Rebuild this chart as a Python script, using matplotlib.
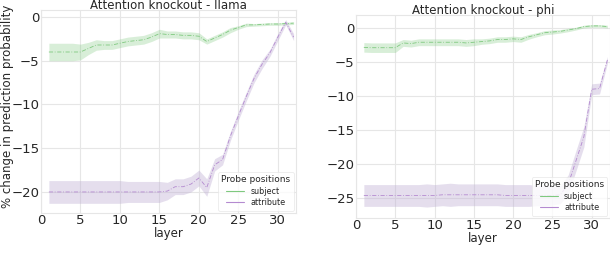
import numpy as np
import matplotlib
matplotlib.use("Agg")
import matplotlib.pyplot as plt
import seaborn as sns
from matplotlib.lines import Line2D

sns.set_style("whitegrid")
plt.rcParams['font.family'] = ['DejaVu Sans']

layers = np.arange(1, 33)

# llama
llama_subj = [-4.0, -4.0, -4.0, -4.0, -4.0, -3.6, -3.2, -3.2, -3.2, -3.0,
              -2.8, -2.7, -2.6, -2.3, -1.9, -2.0, -2.0, -2.1, -2.1, -2.2,
              -2.8, -2.4, -2.0, -1.5, -1.2, -0.9, -0.9, -0.85, -0.8, -0.8,
              -0.75, -0.7]
llama_subj_err = [1.0, 1.0, 1.0, 1.0, 0.9, 0.7, 0.6, 0.5, 0.5, 0.5,
                  0.5, 0.5, 0.5, 0.5, 0.5, 0.4, 0.4, 0.4, 0.4, 0.4,
                  0.3, 0.3, 0.3, 0.3, 0.2, 0.2, 0.15, 0.15, 0.15, 0.15,
                  0.15, 0.15]
llama_attr = [-20.0, -20.0, -20.0, -20.0, -20.0, -20.0, -20.0, -20.0, -20.0, -20.0,
              -20.0, -20.0, -20.0, -20.0, -20.0, -19.9, -19.4, -19.4, -19.1, -18.4,
              -19.5, -16.9, -16.3, -13.6, -11.3, -9.1, -7.0, -5.4, -4.1, -2.3,
              -0.6, -2.3]
llama_attr_err = [1.3, 1.3, 1.3, 1.3, 1.3, 1.3, 1.3, 1.3, 1.3, 1.3,
                  1.2, 1.2, 1.2, 1.2, 1.2, 1.0, 0.9, 0.9, 0.9, 0.9,
                  1.0, 0.7, 0.6, 0.5, 0.5, 0.5, 0.5, 0.5, 0.4, 0.4,
                  0.3, 0.4]

# phi
phi_subj = [-2.85, -2.9, -2.9, -2.9, -2.9, -2.2, -2.3, -2.1, -2.1, -2.1,
            -2.1, -2.1, -2.1, -2.2, -2.1, -2.0, -1.9, -1.7, -1.7, -1.6,
            -1.7, -1.3, -1.0, -0.7, -0.6, -0.5, -0.3, -0.1, 0.2, 0.3,
            0.3, 0.2]
phi_subj_err = [0.7, 0.7, 0.7, 0.7, 0.7, 0.5, 0.5, 0.5, 0.5, 0.5,
                0.5, 0.5, 0.5, 0.5, 0.5, 0.4, 0.4, 0.4, 0.4, 0.4,
                0.4, 0.35, 0.3, 0.3, 0.3, 0.25, 0.25, 0.2, 0.2, 0.2,
                0.2, 0.2]
phi_attr = [-24.6, -24.6, -24.6, -24.6, -24.6, -24.6, -24.6, -24.6, -24.6, -24.6,
            -24.5, -24.5, -24.5, -24.5, -24.5, -24.5, -24.5, -24.5, -24.6, -24.6,
            -24.6, -24.6, -24.6, -24.6, -24.6, -24.5, -23.0, -19.5, -16.0, -9.0,
            -8.9, -4.7]
phi_attr_err = [1.6, 1.6, 1.6, 1.6, 1.6, 1.6, 1.6, 1.6, 1.7, 1.6,
                1.6, 1.7, 1.6, 1.6, 1.6, 1.6, 1.6, 1.6, 1.6, 1.6,
                1.6, 1.6, 1.5, 1.5, 1.4, 1.3, 1.4, 1.5, 1.5, 0.8,
                0.8, 0.5]

GREEN = "#7fc97f"
PURPLE = "#beaed4"
LINE_PURPLE = "#b48ad0"
TEXT = "#262626"

fig = plt.figure(figsize=(6.1, 2.78), dpi=100)
ax1 = fig.add_axes([0.0672, 0.234, 0.418, 0.730])
ax2 = fig.add_axes([0.5836, 0.216, 0.416, 0.730])


def draw(ax, subj, subj_err, attr, attr_err, title, ylim, yticks):
    s = np.array(subj); se = np.array(subj_err)
    a = np.array(attr); ae = np.array(attr_err)
    ax.fill_between(layers, s - se, s + se, color=GREEN, alpha=0.3, lw=0)
    ax.plot(layers, s, color=GREEN, lw=0.6, ls=(0, (5, 2, 1, 2)))
    ax.fill_between(layers, a - ae, a + ae, color=PURPLE, alpha=0.4, lw=0)
    ax.plot(layers, a, color=LINE_PURPLE, lw=0.6, ls=(0, (5, 2, 1, 2)))
    ax.set_xlim(0, 32.3)
    ax.set_ylim(*ylim)
    ax.set_xticks([0, 5, 10, 15, 20, 25, 30])
    ax.set_yticks(yticks)
    ax.tick_params(labelsize=9.5, pad=1, length=0, labelcolor=TEXT)
    ax.set_title(title, fontsize=8.5, pad=1, color=TEXT)
    ax.set_xlabel("layer", fontsize=8.5, labelpad=0, color=TEXT)
    for sp in ax.spines.values():
        sp.set_color("#e6e6e6")
        sp.set_linewidth(0.8)
    ax.grid(True, color="#e6e6e6", lw=0.8)
    handles = [Line2D([], [], color=GREEN, lw=0.8),
               Line2D([], [], color=LINE_PURPLE, lw=0.8)]
    leg = ax.legend(handles, ["subject", "attribute"], title="Probe positions",
                    loc="lower right", fontsize=5.8, title_fontsize=6.5,
                    frameon=True, framealpha=0.8, borderaxespad=0.3,
                    handlelength=2.2, labelspacing=0.3)
    leg.get_frame().set_edgecolor("#e6e6e6")
    leg.get_frame().set_linewidth(0.6)


draw(ax1, llama_subj, llama_subj_err, llama_attr, llama_attr_err,
     "Attention knockout - llama", (-22.4, 0.8), [0, -5, -10, -15, -20])
ax1.set_ylabel("% change in prediction probability", fontsize=8.5, color=TEXT)
ax1.yaxis.set_label_coords(-0.105, 0.525)

draw(ax2, phi_subj, phi_subj_err, phi_attr, phi_attr_err,
     "Attention knockout - phi", (-27.9, 1.9), [0, -5, -10, -15, -20, -25])

fig.savefig("out.png", dpi=100)
